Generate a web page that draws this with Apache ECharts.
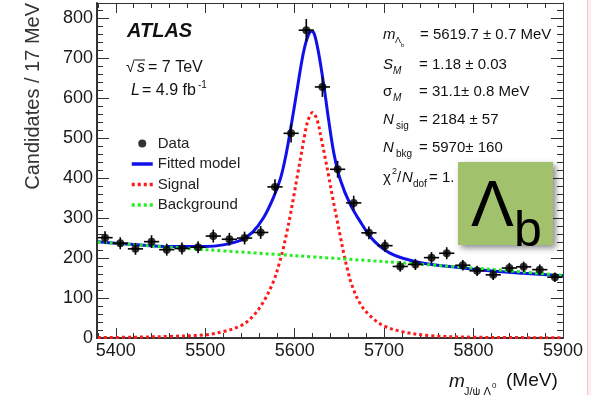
<!DOCTYPE html>
<html style="height: 100%">
<head>
<meta charset="utf-8">
<script src="https://cdn.jsdelivr.net/npm/echarts@6/dist/echarts.min.js"></script>
</head>
<body style="margin: 0; background: #fff">
<div id="container" style="width: 591px; height: 395px;"></div>
<script type="text/javascript">
// data points (bin centres in MeV, candidates per 17 MeV, vertical errors)
var binCenters = [5388, 5405, 5422, 5440, 5457, 5474, 5492, 5509, 5527, 5544, 5562, 5578, 5596, 5613, 5631,
                  5648, 5666, 5683, 5701, 5718, 5735, 5753, 5770, 5788, 5804, 5822, 5840, 5856, 5874, 5891];
var candidates = [251, 237, 223, 241, 221, 224, 227, 255, 247, 250, 264, 378, 512, 770, 628,
                  422, 338, 263, 231, 179, 184, 201, 212, 182, 168, 158, 175, 178, 171, 152];
var candErr = [16, 15, 15, 16, 15, 15, 15, 16, 16, 16, 16, 19, 23, 28, 25,
               21, 18, 16, 15, 13, 14, 14, 15, 13, 13, 13, 13, 13, 13, 12];
var binHalf = 8.5;

// fitted model (blue)
var fitX = [5380, 5420, 5460, 5500, 5520, 5540, 5553, 5565, 5576, 5584, 5590, 5596, 5603, 5609, 5614, 5619, 5622,
            5626, 5630, 5634, 5638, 5644, 5651, 5662, 5675, 5685, 5695, 5706, 5720, 5744, 5781, 5818, 5855, 5900];
var fitY = [241, 234, 229, 229, 233, 245, 265, 300, 350, 398, 455, 530, 625, 705, 750, 768, 760,
            722, 670, 610, 545, 460, 396, 335, 285, 252, 230, 213, 200, 187, 177, 168, 162, 156];

// signal (red dotted)
var sigX = [5380, 5420, 5460, 5500, 5520, 5540, 5553, 5565, 5576, 5583, 5587, 5591, 5595, 5599, 5603, 5607, 5611, 5615, 5620,
            5625, 5630, 5634, 5638, 5642, 5647, 5651, 5655, 5659, 5664, 5674, 5686, 5700, 5720, 5750, 5800, 5850, 5900];
var sigY = [1, 2, 4, 8, 16, 31, 54, 90, 140, 188, 222, 262, 306, 355, 405, 455, 505, 545, 564,
            546, 496, 452, 405, 356, 300, 255, 210, 172, 132, 83, 52, 30, 16, 6, 2, 1, 0.5];

// background (green dotted)
var bkgX = [5380, 5500, 5600, 5700, 5800, 5900];
var bkgY = [240, 221, 206, 191, 175, 157];

// axes
var xMin = 5379, xMax = 5900, yMin = 0, yMax = 838;
var xMajor = [5400, 5500, 5600, 5700, 5800, 5900];
var xMinor = [5380, 5400, 5420, 5440, 5460, 5480, 5500, 5520, 5540, 5560, 5580, 5600, 5620, 5640,
              5660, 5680, 5700, 5720, 5740, 5760, 5780, 5800, 5820, 5840, 5860, 5880, 5900];
var yMajor = [0, 100, 200, 300, 400, 500, 600, 700, 800];
var yMinor = [0, 20, 40, 60, 80, 100, 120, 140, 160, 180, 200, 220, 240, 260, 280, 300, 320, 340, 360, 380, 400,
              420, 440, 460, 480, 500, 520, 540, 560, 580, 600, 620, 640, 660, 680, 700, 720, 740, 760, 780, 800, 820];

var FONT = 'Liberation Sans, Arial, sans-serif';

function pairs(xs, ys) {
    return xs.map(function (x, i) { return [x, ys[i]]; });
}

function axisOpt(pos, lo, hi, ticks, len, labels, lineW) {
    return {
        type: 'value', position: pos, min: lo, max: hi,
        axisLine: {show: lineW > 0, onZero: false, lineStyle: {color: '#333', width: lineW || 1}},
        axisTick: {show: true, inside: true, length: len, customValues: ticks, lineStyle: {color: '#333', width: 1}},
        axisLabel: labels ? {
            show: true, customValues: ticks, margin: 4, fontSize: 18, color: '#1a1a1a', fontFamily: FONT,
            formatter: function (v) { return String(v); }
        } : {show: false},
        splitLine: {show: false}
    };
}

function txt(x, y, s, font) {
    return {type: 'text', x: x, y: y, z: 100,
            style: {text: s, font: font, fill: '#111', align: 'left', verticalAlign: 'middle'}};
}
var F15 = '15px ' + FONT, I15 = 'italic 15px ' + FONT;
var F16 = '16px ' + FONT, I16 = 'italic 16px ' + FONT;

var graphics = [
    {type: 'text', x: 33, y: 3, rotation: Math.PI / 2, z: 100,
     style: {text: 'Candidates / 17 MeV', font: '20px ' + FONT, fill: '#333', align: 'right', verticalAlign: 'middle'}},
    // left block
    txt(127, 31, 'ATLAS', 'italic bold 20px ' + FONT),
    txt(126, 68, '\u221a', F16),
    {type: 'line', shape: {x1: 135, y1: 60, x2: 145, y2: 60}, style: {stroke: '#111', lineWidth: 1}, z: 100},
    txt(137, 68, 's', I16),
    txt(148, 68, '= 7 TeV', F16),
    txt(131, 91, 'L', I16),
    txt(142, 91, '= 4.9 fb', F16),
    txt(198, 85, '-1', '10px ' + FONT),
    // right block
    txt(383, 35, 'm', I15), txt(395, 41, '\u039b', '9px ' + FONT), txt(401, 45, 'b', '6px ' + FONT),
    txt(420, 35, '= 5619.7 \u00b1 0.7 MeV', F15),
    txt(383, 65, 'S', I15), txt(393, 71, 'M', 'italic 10px ' + FONT),
    txt(419, 65, '= 1.18 \u00b1 0.03', F15),
    txt(383, 92, '\u03c3', F15), txt(393, 98, 'M', 'italic 10px ' + FONT),
    txt(419, 92, '= 31.1\u00b1 0.8 MeV', F15),
    txt(383, 120, 'N', I15), txt(396, 126, 'sig', '10px ' + FONT),
    txt(419, 120, '= 2184 \u00b1 57', F15),
    txt(383, 148, 'N', I15), txt(396, 154, 'bkg', '10px ' + FONT),
    txt(419, 148, '= 5970\u00b1 160', F15),
    txt(383, 178, '\u03c7', F15), txt(392, 172, '2', '9px ' + FONT),
    txt(397, 178, '/', F15), txt(402, 178, 'N', I15), txt(413, 184, 'dof', '10px ' + FONT),
    txt(429, 178, '= 1.', F15),
    // x axis title
    txt(449, 382, 'm', 'italic 19px ' + FONT),
    txt(464, 392, 'J/\u03c8 \u039b', '11px ' + FONT),
    txt(492, 386, '0', '8px ' + FONT),
    txt(506, 381, '(MeV)', '19px ' + FONT),
    // Lambda_b badge
    {type: 'rect', shape: {x: 458, y: 162, width: 95, height: 83},
     style: {fill: '#a2c16c', shadowBlur: 6, shadowColor: 'rgba(0,0,0,0.45)', shadowOffsetX: 3, shadowOffsetY: 3}, z: 110},
    {type: 'text', x: 471, y: 208, z: 111, style: {text: '\u039b', font: '64px ' + FONT, fill: '#000', align: 'left', verticalAlign: 'middle'}},
    {type: 'text', x: 514, y: 232, z: 111, style: {text: 'b', font: '50px ' + FONT, fill: '#000', align: 'left', verticalAlign: 'middle'}},
    // page edge
    {type: 'rect', shape: {x: 587, y: 0, width: 4, height: 395}, style: {fill: '#fbeded'}, z: 100},
    {type: 'line', shape: {x1: 587.5, y1: 0, x2: 587.5, y2: 395}, style: {stroke: '#efcccc', lineWidth: 1}, z: 100}
];

var dom = document.getElementById('container');
var myChart = echarts.init(dom, null, {renderer: 'canvas'});

var hideDot = {opacity: 0};
var option = {
    animation: false,
    backgroundColor: '#fff',
    grid: {left: 97, right: 28, top: 3, bottom: 57, containLabel: false, outerBoundsMode: 'none'},
    xAxis: [
        axisOpt('bottom', xMin, xMax, xMajor, 10, true, 2),
        axisOpt('bottom', xMin, xMax, xMinor, 5, false, 0),
        axisOpt('top', xMin, xMax, xMajor, 10, false, 1),
        axisOpt('top', xMin, xMax, xMinor, 5, false, 0)
    ],
    yAxis: [
        axisOpt('left', yMin, yMax, yMajor, 12, true, 2),
        axisOpt('left', yMin, yMax, yMinor, 6, false, 0),
        axisOpt('right', yMin, yMax, yMajor, 12, false, 1),
        axisOpt('right', yMin, yMax, yMinor, 6, false, 0)
    ],
    legend: {
        orient: 'vertical', left: 125, top: 131,
        itemWidth: 21, itemHeight: 8, itemGap: 5.5,
        textStyle: {fontSize: 15, color: '#222', fontFamily: FONT},
        data: [
            {name: 'Data', icon: 'circle'},
            {name: 'Fitted model', itemStyle: hideDot, lineStyle: {width: 3.5}},
            {name: 'Signal', itemStyle: hideDot, lineStyle: {width: 3.5}},
            {name: 'Background', itemStyle: hideDot, lineStyle: {width: 3.5}}
        ]
    },
    graphic: graphics,
    series: [
        {
            name: 'Fitted model', type: 'line', data: pairs(fitX, fitY),
            smooth: 0.35, symbol: 'none', showSymbol: false, z: 2,
            lineStyle: {color: '#1010e8', width: 3}, itemStyle: {color: '#1010e8'}
        },
        {
            name: 'Signal', type: 'line', data: pairs(sigX, sigY),
            smooth: 0.35, symbol: 'none', showSymbol: false, z: 3,
            lineStyle: {color: '#ff1a1a', width: 3, type: [3, 3]}, itemStyle: {color: '#ff1a1a'}
        },
        {
            name: 'Background', type: 'line', data: pairs(bkgX, bkgY),
            smooth: 0.3, symbol: 'none', showSymbol: false, z: 3,
            lineStyle: {color: '#22ee22', width: 3, type: [3, 3]}, itemStyle: {color: '#22ee22'}
        },
        {
            name: 'errors', type: 'custom', z: 4,
            data: binCenters.map(function (x, i) { return [x, candidates[i], candErr[i]]; }),
            encode: {x: 0, y: 1},
            renderItem: function (params, api) {
                var x = api.value(0), y = api.value(1), e = api.value(2);
                var l = api.coord([x - binHalf, y]), r = api.coord([x + binHalf, y]);
                var t = api.coord([x, y + e]), b = api.coord([x, y - e]);
                var st = {stroke: '#000', lineWidth: 1.6};
                return {type: 'group', children: [
                    {type: 'line', shape: {x1: l[0], y1: l[1], x2: r[0], y2: r[1]}, style: st},
                    {type: 'line', shape: {x1: t[0], y1: t[1], x2: b[0], y2: b[1]}, style: st}
                ]};
            }
        },
        {
            name: 'Data', type: 'scatter', z: 5,
            data: pairs(binCenters, candidates),
            symbol: 'circle', symbolSize: 8,
            itemStyle: {color: '#000'}
        }
    ]
};
myChart.setOption(option);
</script>
</body>
</html>
